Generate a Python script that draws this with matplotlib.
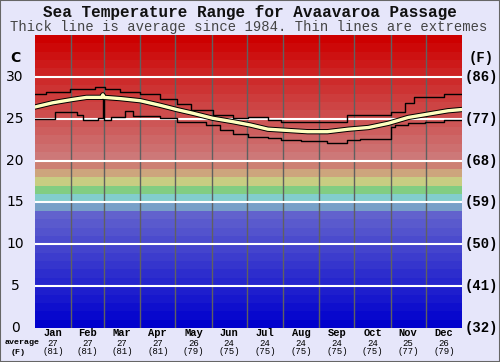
import numpy as np
import matplotlib
matplotlib.use('Agg')
import matplotlib.pyplot as plt
import matplotlib.patheffects as pe

# data (x = day of year, y = deg C)
months = ['Jan', 'Feb', 'Mar', 'Apr', 'May', 'Jun', 'Jul', 'Aug', 'Sep', 'Oct', 'Nov', 'Dec']
month_avg_c = [27, 27, 27, 27, 26, 24, 24, 24, 24, 24, 25, 26]
month_avg_f = [81, 81, 81, 81, 79, 75, 75, 75, 75, 75, 77, 79]
month_edges = [0, 31, 59, 90, 120, 151, 181, 212, 243, 273, 304, 334, 365]

avg_days = [0, 15, 32, 44, 57, 58, 59, 73, 90, 107, 121, 135, 152, 169, 184, 199, 216,
            233, 250, 268, 285, 302, 319, 336, 353, 365]
avg_temp = [26.4, 26.9, 27.3, 27.55, 27.55, 27.85, 27.55, 27.4, 27.15, 26.6, 26.1, 25.65,
            25.05, 24.65, 24.25, 23.75, 23.6, 23.45, 23.45, 23.75, 23.95, 24.45, 25.15,
            25.55, 25.95, 26.1]

max_days = [0, 9, 30, 51, 60, 73, 90, 107, 121, 133, 152, 169, 182, 199, 210, 244, 267,
            304, 316, 324, 350, 365]
max_temp = [27.9, 28.2, 28.5, 28.8, 28.5, 28.2, 27.9, 27.4, 26.8, 26.1, 25.5, 25.1, 25.2,
            24.9, 24.55, 24.65, 25.45, 25.85, 26.9, 27.55, 27.95, 27.95]

min_days = [0, 17, 36, 41, 54, 58, 59, 65, 77, 84, 107, 121, 146, 158, 169, 182, 199, 210,
            227, 250, 267, 278, 304, 308, 319, 333, 350, 365]
min_temp = [25.0, 25.8, 25.4, 24.9, 25.1, 27.8, 24.9, 25.2, 25.9, 25.3, 25.1, 24.65, 24.3,
            23.7, 23.2, 22.8, 22.7, 22.5, 22.3, 22.1, 22.5, 22.6, 24.0, 24.2, 24.5, 24.6,
            24.9, 24.9]

c_ticks = [0, 5, 10, 15, 20, 25, 30]
f_ticks = ['(32)', '(41)', '(50)', '(59)', '(68)', '(77)', '(86)']

W, H = 500, 362
bg = '#e6e6fa'
mono = 'Liberation Mono'

fig = plt.figure(figsize=(5, 3.62), dpi=100, facecolor=bg)
fig.patches.append(plt.Rectangle((0, 0), 1, 1, transform=fig.transFigure,
                                 fill=False, edgecolor='#666666', lw=1.5))
ax = fig.add_axes([35 / W, 1 - 328 / H, 427 / W, 293 / H])


def band_color(t):
    special = {14: (120, 160, 200), 15: (130, 205, 205), 16: (130, 205, 130),
               17: (200, 205, 130), 18: (205, 165, 125), 19: (205, 128, 115)}
    if t in special:
        c = special[t]
    elif t < 14:
        v = 7.5 * t
        c = (v, v, 205)
    else:
        v = max(0, 120 - 8.6 * (t - 20))
        c = (205, v, v)
    return tuple(x / 255 for x in c)


for t in range(35):
    ax.axhspan(t, t + 1, color=band_color(t), lw=0)

for d in month_edges[1:-1]:
    ax.axvline(d, color='#606060', lw=1)
for t in c_ticks[1:]:
    ax.axhline(t, color='white', lw=1.5)

ax.step(max_days, max_temp, where='post', color='black', lw=1.0)
ax.step(min_days, min_temp, where='post', color='black', lw=1.0)
ax.plot(avg_days, avg_temp, color='#ffffc0', lw=2.4,
        path_effects=[pe.Stroke(linewidth=3.8, foreground='black'), pe.Normal()])

ax.set_xlim(0, 365)
ax.set_ylim(0, 35)
ax.set_xticks([])
ax.set_yticks([])
for s in ax.spines.values():
    s.set_visible(False)


def fx(px):
    return px / W


def fy(py):
    return 1 - py / H


fig.text(fx(250), fy(12), 'Sea Temperature Range for Avaavaroa Passage', ha='center',
         va='center', family=mono, weight='bold', fontsize=11.5, color='#111111')
fig.text(fx(249), fy(27), 'Thick line is average since 1984. Thin lines are extremes',
         ha='center', va='center', family=mono, fontsize=10, color='#444444')

for t in c_ticks:
    py = 328 - t * 293 / 35
    fig.text(fx(15), fy(py), str(t), ha='center', va='center', fontsize=10, color='black')
for t, lab in zip(c_ticks[:-1], f_ticks[:-1]):
    py = 328 - t * 293 / 35
    fig.text(fx(481), fy(py), lab, ha='center', va='center', family=mono,
             weight='bold', fontsize=10)
fig.text(fx(481), fy(77), f_ticks[-1], ha='center', va='center', family=mono,
         weight='bold', fontsize=10)
fig.text(fx(15), fy(58), 'C', ha='center', va='center', fontsize=10, weight='bold')
fig.text(fx(481), fy(58), '(F)', ha='center', va='center', family=mono,
         weight='bold', fontsize=10)

tr = ax.get_xaxis_transform()
for i, m in enumerate(months):
    mid = (month_edges[i] + month_edges[i + 1]) / 2
    ax.text(mid, -5.5 / 293, m, transform=tr, ha='center', va='center', family=mono,
            weight='bold', fontsize=7.5)
    ax.text(mid, -15 / 293, str(month_avg_c[i]), transform=tr, ha='center', va='center',
            family=mono, fontsize=6.5)
    ax.text(mid, -24 / 293, '(%d)' % month_avg_f[i], transform=tr, ha='center',
            va='center', family=mono, fontsize=6.5)
fig.text(fx(22), fy(343), 'average', ha='center', va='center', family=mono,
         weight='bold', fontsize=6)
fig.text(fx(18), fy(352), '(F)', ha='center', va='center', family=mono,
         weight='bold', fontsize=6)

fig.savefig('out.png', dpi=100, facecolor=bg)
